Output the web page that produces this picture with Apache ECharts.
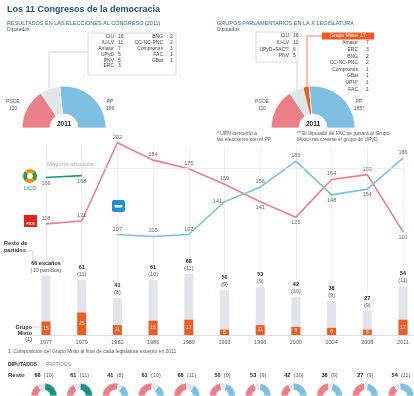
<!DOCTYPE html>
<html>
<head>
<meta charset="utf-8">
<script src="https://cdn.jsdelivr.net/npm/echarts@6/dist/echarts.min.js"></script>
<style>
  html, body { margin: 0; padding: 0; background: #fff; }
  #main { width: 414px; height: 396px; }
</style>
</head>
<body>
<div id="main"></div>
<script>
// años de cada legislatura
var years = ['1977', '1979', '1982', '1986', '1989', '1993', '1996', '2000', '2004', '2008', '2011'];
var ucd = [166, 168, null, null, null, null, null, null, null, null, null];
var psoe = [118, 121, 202, 184, 175, 159, 141, 125, 164, 169, 110];
var pp = [null, null, 107, 105, 107, 141, 156, 183, 148, 154, 186];
var resto = [66, 61, 41, 61, 68, 50, 53, 42, 38, 27, 54];
var partidos = [10, 11, 8, 10, 11, 9, 9, 10, 9, 9, 11];
var mixto = [15, 25, 11, 16, 17, 6, 11, 9, 8, 6, 17];

// 2011
var congresoNames = ['PSOE', 'Resto', 'PP'];
var congresoValues = [110, 54, 186];
var gruposNames = ['PSOE', 'Otros grupos', 'Grupo Mixto', 'PP'];
var gruposValues = [110, 38, 17, 185];
var listaA = [['CiU', 16], ['IU-LV', 11], ['Amaiur', 7], ['UPyD', 5], ['PNV', 5], ['ERC', 3]];
var listaB = [['BNG', 2], ['CC-NC-PNC', 2], ['Compromís', 1], ['FAC', 1], ['GBai', 1]];
var gruposLista = [['CiU', 16], ['IU-LV', 11], ['UPyD+FAC**', 6], ['PNV', 5]];
var mixtoLista = [['Amaiur', 7], ['ERC', 3], ['BNG', 2], ['CC-NC-PNC', 2], ['Compromís', 1], ['GBai', 1], ['UPN*', 1], ['FAC', 1]];

// posiciones de etiquetas (estilo)
var psoePos = ['top', 'top', 'top', 'top', 'top', 'top', 'bottom', 'bottom', 'top', 'top', 'bottom'];
var ppPos = [null, null, 'top', 'top', 'top', 'left', 'top', 'top', 'bottom', 'bottom', 'top'];

var RED = '#ea7f87', BLUE = '#7cbfe0', GREY = '#dfe5ea', ORANGE = '#f15a22', TEAL = '#1f8f86';
var FONT = 'Liberation Sans, Arial, sans-serif';
var X0 = 46, X1 = 403, step = (X1 - X0) / (years.length - 1);

var myChart = echarts.init(document.getElementById('main'));

function txt(x, y, text, font, fill, align, extra) {
    var st = { text: text, font: font + ' ' + FONT, fill: fill || '#333', textAlign: align || 'left', textVerticalAlign: 'middle' };
    if (extra) Object.assign(st, extra);
    return { type: 'text', x: x, y: y, silent: true, style: st, z: 10 };
}
function ln(points, color, w) {
    return { type: 'polyline', silent: true, shape: { points: points }, style: { stroke: color || '#bbb', lineWidth: w || 0.6, fill: null }, z: 9 };
}

function withPos(values, pos) {
    return values.map(function (v, i) {
        if (v == null) return null;
        return { value: v, label: { position: pos[i] || 'top' } };
    });
}

function buildGraphics() {
    var g = [];
    g.push(txt(7, 10, 'Los 11 Congresos de la democracia', 'bold 9px', '#1d4f7c'));
    g.push(txt(7, 23, 'RESULTADOS EN LAS ELECCIONES AL CONGRESO (2011)', '5.5px', '#2a6496'));
    g.push(txt(7, 29.5, 'Diputados', '5px', '#555'));
    g.push(txt(217, 23, 'GRUPOS PARLAMENTARIOS EN LA X LEGISLATURA', '5.5px', '#2a6496'));
    g.push(txt(217, 29.5, 'Diputados', '5px', '#555'));

    // caja izquierda
    g.push({ type: 'rect', silent: true, shape: { x: 88, y: 33, width: 88, height: 42 }, style: { fill: '#fff', stroke: '#c8c8c8', lineWidth: 0.6 }, z: 8 });
    listaA.forEach(function (p, i) {
        g.push(txt(114, 37 + i * 5.8, p[0], '5px', '#444', 'right'));
        g.push(txt(118, 37 + i * 5.8, String(p[1]), '5px', '#444', 'left'));
    });
    listaB.forEach(function (p, i) {
        g.push(txt(163, 37 + i * 5.8, p[0], '5px', '#444', 'right'));
        g.push(txt(170, 37 + i * 5.8, String(p[1]), '5px', '#444', 'left'));
    });
    g.push(ln([[88, 52], [49, 52], [49, 88]], '#bbb'));

    // caja derecha
    g.push({ type: 'rect', silent: true, shape: { x: 256, y: 32, width: 42, height: 30 }, style: { fill: '#fff', stroke: '#c8c8c8', lineWidth: 0.6 }, z: 8 });
    gruposLista.forEach(function (p, i) {
        g.push(txt(289, 36 + i * 6.6, p[0], '5px', '#444', 'right'));
        g.push(txt(293, 36 + i * 6.6, String(p[1]), '5px', '#444', 'left'));
    });
    g.push(ln([[297, 62], [297, 90]], '#bbb'));
    g.push({ type: 'rect', silent: true, shape: { x: 322, y: 32.5, width: 52, height: 7 }, style: { fill: ORANGE }, z: 9 });
    g.push(txt(348, 36, 'Grupo Mixto  ' + gruposValues[2], '5px', '#fff', 'center'));
    g.push(ln([[322, 36], [307, 36], [307, 88]], ORANGE, 0.8));
    mixtoLista.forEach(function (p, i) {
        g.push(txt(358, 43 + i * 6.6, p[0], '5px', '#444', 'right'));
        g.push(txt(366, 43 + i * 6.6, String(p[1]), '5px', '#444', 'left'));
    });

    // etiquetas de los semicírculos
    g.push(txt(13, 102, congresoNames[0], '5px', '#555', 'center'));
    g.push(txt(13, 109, String(congresoValues[0]), '5px', '#555', 'center'));
    g.push(txt(110, 102, congresoNames[2], '5px', '#555', 'center'));
    g.push(txt(110, 109, String(congresoValues[2]), '5px', '#555', 'center'));
    g.push(txt(64, 124, '2011', 'bold 6.5px', '#222', 'center'));
    g.push(txt(262, 102, gruposNames[0], '5px', '#555', 'center'));
    g.push(txt(262, 109, String(gruposValues[0]), '5px', '#555', 'center'));
    g.push(txt(359, 102, gruposNames[3], '5px', '#555', 'center'));
    g.push(txt(359, 109, gruposValues[3] + '*', '5px', '#555', 'center'));
    g.push(txt(313, 124, '2011', 'bold 6.5px', '#222', 'center'));

    // notas
    g.push(txt(217, 134, '* UPN concurrió a', '5px', '#555'));
    g.push(txt(217, 140, 'las elecciones con el PP.', '5px', '#555'));
    g.push(txt(297, 134, '** El diputado de FAC se pasará al Grupo', '5px', '#555'));
    g.push(txt(297, 140, 'Mixto tras crearse el grupo de UPyD.', '5px', '#555'));

    // logos
    var cx = 30, cy = 176;
    [[0, 45, '#2e9b47'], [45, 135, '#f39200'], [135, 225, '#2e9b47'], [225, 315, '#f39200'], [315, 360, '#2e9b47']].forEach(function (s) {
        g.push({ type: 'sector', silent: true, shape: { cx: cx, cy: cy, r: 7, r0: 3, startAngle: s[0] * Math.PI / 180, endAngle: s[1] * Math.PI / 180 }, style: { fill: s[2] }, z: 9 });
    });
    g.push(txt(30, 188, 'UCD', '6px', TEAL, 'center'));
    g.push({ type: 'rect', silent: true, shape: { x: 24, y: 215, width: 13, height: 12 }, style: { fill: '#e2231a' }, z: 9 });
    g.push(txt(30.5, 224.5, 'PSOE', 'bold 3px', '#fff', 'center'));
    g.push({ type: 'rect', silent: true, shape: { x: 112, y: 200, width: 13, height: 12, r: 2 }, style: { fill: '#1f8fd6' }, z: 9 });
    g.push({ type: 'rect', silent: true, shape: { x: 114.5, y: 205, width: 8, height: 2.5, r: 1 }, style: { fill: '#fff' }, z: 10 });

    // barras: rótulos laterales
    g.push(txt(4, 243, 'Resto de', 'bold 5.5px', '#333'));
    g.push(txt(4, 250, 'partidos', 'bold 5.5px', '#333'));
    g.push(ln([[26, 251], [33, 251], [33, 262], [37, 262]], '#bbb'));
    g.push(txt(32, 327, 'Grupo', 'bold 5.5px', '#333', 'right'));
    g.push(txt(32, 333, 'Mixto', 'bold 5.5px', '#333', 'right'));
    g.push(txt(32, 339, '(1)', '5.5px', '#333', 'right'));
    g.push(ln([[33, 327], [41, 327]], '#bbb'));
    g.push(ln([[33, 335.5], [414, 335.5]], '#d5d5d5', 0.8));
    g.push(txt(8, 352, '1. Composición del Grupo Mixto al final de cada legislatura excepto en 2011', '5px', '#555'));

    g.push(txt(8, 365, 'DIPUTADOS', 'bold 5px', '#333'));
    g.push(txt(46, 365, 'PARTIDOS', '5px', '#888'));
    g.push(txt(8, 375, 'Resto', 'bold 6px', '#333'));
    years.forEach(function (y, i) {
        g.push({
            type: 'text', x: X0 + i * step - 2, y: 375, silent: true, z: 10,
            style: {
                text: '{n|' + resto[i] + '} {p|(' + partidos[i] + ')}',
                textAlign: 'center', textVerticalAlign: 'middle',
                rich: {
                    n: { font: 'bold 5.5px ' + FONT, fill: '#222' },
                    p: { font: '5.5px ' + FONT, fill: '#555' }
                }
            }
        });
    });
    return g;
}

function smallPies() {
    return years.map(function (y, i) {
        var winner = ucd[i] != null ? ucd[i] : pp[i];
        return {
            type: 'pie',
            silent: true,
            center: [X0 + i * step - 2, 396],
            radius: [6, 13],
            startAngle: 180,
            endAngle: 0,
            label: { show: false },
            labelLine: { show: false },
            itemStyle: { borderColor: '#fff', borderWidth: 0.6 },
            data: [
                { value: psoe[i], itemStyle: { color: RED } },
                { value: resto[i], itemStyle: { color: GREY } },
                { value: winner, itemStyle: { color: ucd[i] != null ? TEAL : BLUE } }
            ]
        };
    });
}

function getOption() {
    var lineLabel = { show: true, fontSize: 5.5, color: '#666', fontFamily: FONT, distance: 2 };
    var option = {
        animation: false,
        textStyle: { fontFamily: FONT },
        grid: [
            { left: X0, right: 414 - X1, top: 135, height: 106.3 },
            { left: X0, right: 414 - X1, top: 148, height: 187 }
        ],
        xAxis: [
            { type: 'category', gridIndex: 0, data: years, boundaryGap: false, show: false },
            {
                type: 'category', gridIndex: 1, data: years, boundaryGap: false,
                axisLine: { show: false }, axisTick: { show: false },
                axisLabel: { fontSize: 5.5, color: '#555', margin: 4 },
                splitLine: { show: true, lineStyle: { color: '#e8e8e8', width: 0.8 } }
            }
        ],
        yAxis: [
            { type: 'value', gridIndex: 0, min: 100, max: 210, show: false },
            { type: 'value', gridIndex: 1, min: 0, max: 208, show: false }
        ],
        series: [
            {
                name: 'Resto', type: 'bar', xAxisIndex: 1, yAxisIndex: 1, barWidth: 9, clip: false,
                data: resto, itemStyle: { color: GREY },
                label: {
                    show: true, position: 'top', distance: 2, lineHeight: 7,
                    backgroundColor: '#fff',
                    formatter: function (p) {
                        if (p.dataIndex === 0) return '{n|' + p.value + ' escaños}\n{p|(' + partidos[0] + ' partidos)}';
                        return '{n|' + p.value + '}\n{p|(' + partidos[p.dataIndex] + ')}';
                    },
                    rich: {
                        n: { fontSize: 5.5, fontWeight: 'bold', color: '#222', lineHeight: 7 },
                        p: { fontSize: 5.5, color: '#555', lineHeight: 7 }
                    }
                }
            },
            {
                name: 'Grupo Mixto', type: 'bar', xAxisIndex: 1, yAxisIndex: 1, barWidth: 9, barGap: '-100%', clip: false,
                data: mixto, itemStyle: { color: ORANGE }, z: 3,
                label: { show: true, position: 'inside', fontSize: 5, color: '#fff' }
            },
            {
                name: 'UCD', type: 'line', xAxisIndex: 0, yAxisIndex: 0, data: withPos(ucd, ['bottom', 'bottom']),
                symbol: 'circle', symbolSize: 1, lineStyle: { color: TEAL, width: 1.6 }, itemStyle: { color: TEAL },
                label: lineLabel
            },
            {
                name: 'PSOE', type: 'line', xAxisIndex: 0, yAxisIndex: 0, data: withPos(psoe, psoePos),
                symbol: 'circle', symbolSize: 1, lineStyle: { color: RED, width: 1.6 }, itemStyle: { color: RED },
                label: lineLabel,
                markLine: {
                    silent: true, symbol: 'none',
                    lineStyle: { color: '#e6e6e6', width: 0.8, type: 'solid' },
                    label: { position: 'insideStartTop', formatter: 'Mayoría absoluta', color: '#b0b0b0', fontSize: 6, distance: 1 },
                    data: [{ yAxis: 176 }]
                }
            },
            {
                name: 'PP', type: 'line', xAxisIndex: 0, yAxisIndex: 0, data: withPos(pp, ppPos),
                symbol: 'circle', symbolSize: 1, lineStyle: { color: BLUE, width: 1.6 }, itemStyle: { color: BLUE },
                label: lineLabel
            },
            {
                name: 'Congreso 2011', type: 'pie', silent: true, center: [64, 128], radius: [14, 42],
                startAngle: 180, endAngle: 0, label: { show: false }, labelLine: { show: false },
                itemStyle: { borderColor: '#fff', borderWidth: 0.8 },
                data: congresoNames.map(function (n, i) {
                    return { name: n, value: congresoValues[i], itemStyle: { color: [RED, GREY, BLUE][i] } };
                })
            },
            {
                name: 'Grupos X legislatura', type: 'pie', silent: true, center: [313, 128], radius: [14, 42],
                startAngle: 180, endAngle: 0, label: { show: false }, labelLine: { show: false },
                itemStyle: { borderColor: '#fff', borderWidth: 0.8 },
                data: gruposNames.map(function (n, i) {
                    return { name: n, value: gruposValues[i], itemStyle: { color: [RED, GREY, ORANGE, BLUE][i] } };
                })
            }
        ].concat(smallPies()),
        graphic: buildGraphics()
    };
    return option;
}

myChart.setOption(getOption());
</script>
</body>
</html>
